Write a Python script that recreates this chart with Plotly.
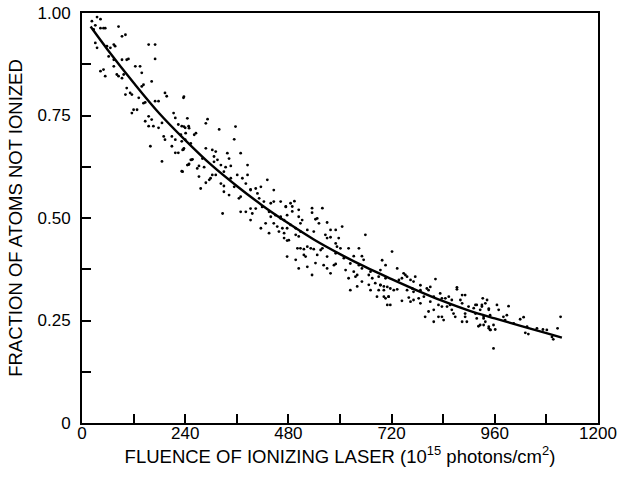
import plotly.graph_objects as go

# Fitted curve
curve_x = [20, 60, 120, 180, 240, 300, 360, 420, 480, 540, 600, 660, 720, 780, 840, 900, 960, 1020, 1080, 1116]
curve_y = [0.967, 0.91, 0.83, 0.755, 0.69, 0.63, 0.578, 0.53, 0.487, 0.447, 0.412, 0.38, 0.351, 0.323, 0.297, 0.274, 0.255, 0.237, 0.219, 0.208]

pts = [
    (23, 0.98), (35, 0.99), (43, 0.985), (31, 0.97), (27, 0.96), (43, 0.963), (50, 0.963), (54, 0.963),
    (85, 0.967), (93, 0.943), (101, 0.947), (31, 0.927), (35, 0.915), (58, 0.919), (66, 0.915), (74, 0.923),
    (77, 0.919), (62, 0.894), (74, 0.886), (93, 0.886), (104, 0.886), (108, 0.888), (155, 0.923), (170, 0.923),
    (170, 0.888), (43, 0.858), (50, 0.862), (54, 0.846), (74, 0.87), (81, 0.85), (85, 0.846), (93, 0.841),
    (97, 0.85), (124, 0.87), (135, 0.87), (139, 0.854), (162, 0.833), (143, 0.825), (139, 0.821), (104, 0.817),
    (101, 0.801), (112, 0.805), (116, 0.801), (132, 0.793), (143, 0.78), (147, 0.782), (170, 0.785), (178, 0.785),
    (193, 0.805), (197, 0.797), (236, 0.793), (120, 0.764), (128, 0.764), (116, 0.756), (147, 0.736), (155, 0.748),
    (162, 0.74), (166, 0.724), (155, 0.724), (178, 0.72), (186, 0.732), (213, 0.756), (217, 0.744), (224, 0.728),
    (232, 0.724), (240, 0.72), (248, 0.724), (190, 0.699), (193, 0.691), (209, 0.699), (217, 0.691), (232, 0.687),
    (240, 0.691), (159, 0.675), (209, 0.675), (217, 0.659), (224, 0.659), (236, 0.667), (186, 0.638), (232, 0.614),
    (248, 0.63), (255, 0.642),
    (237, 0.796), (245, 0.743), (292, 0.741), (288, 0.731), (237, 0.723), (249, 0.719), (241, 0.707), (230, 0.703),
    (265, 0.707), (261, 0.703), (319, 0.716), (357, 0.723), (354, 0.692), (253, 0.682), (237, 0.67), (234, 0.666),
    (288, 0.67), (303, 0.666), (311, 0.662), (338, 0.658), (369, 0.658), (253, 0.642), (257, 0.643), (280, 0.645),
    (307, 0.65), (315, 0.642), (307, 0.637), (342, 0.645), (245, 0.629), (249, 0.632), (272, 0.627), (284, 0.624),
    (268, 0.621), (323, 0.629), (334, 0.624), (346, 0.627), (385, 0.629), (234, 0.613), (303, 0.605), (311, 0.605),
    (299, 0.597), (296, 0.593), (288, 0.586), (272, 0.601), (330, 0.613), (361, 0.605), (373, 0.597), (385, 0.605),
    (346, 0.597), (431, 0.593), (323, 0.584), (330, 0.578), (354, 0.576), (381, 0.584), (392, 0.57), (404, 0.572),
    (416, 0.576), (392, 0.568), (446, 0.568), (276, 0.572), (330, 0.564), (342, 0.556), (369, 0.552), (365, 0.548),
    (408, 0.56), (412, 0.548), (423, 0.54), (439, 0.536), (446, 0.54), (462, 0.54), (327, 0.511), (369, 0.515),
    (381, 0.515), (392, 0.523), (396, 0.511), (404, 0.523), (419, 0.527), (435, 0.515), (439, 0.503), (450, 0.507),
    (462, 0.503), (474, 0.527), (477, 0.507), (392, 0.495), (416, 0.475), (427, 0.487), (446, 0.487), (454, 0.479),
    (458, 0.467), (435, 0.463), (470, 0.463), (477, 0.475),
    (474, 0.528), (485, 0.536), (494, 0.541), (489, 0.528), (489, 0.516), (504, 0.52), (535, 0.524), (559, 0.524),
    (535, 0.513), (462, 0.499), (470, 0.495), (504, 0.503), (512, 0.495), (543, 0.497), (547, 0.499), (551, 0.487),
    (570, 0.489), (485, 0.483), (466, 0.475), (497, 0.475), (508, 0.487), (508, 0.467), (524, 0.471), (539, 0.467),
    (578, 0.471), (590, 0.471), (605, 0.479), (470, 0.451), (477, 0.445), (481, 0.446), (497, 0.459), (504, 0.455),
    (566, 0.459), (570, 0.451), (578, 0.453), (597, 0.451), (659, 0.459), (501, 0.426), (508, 0.426), (524, 0.43),
    (516, 0.424), (532, 0.426), (539, 0.424), (555, 0.422), (559, 0.426), (590, 0.438), (593, 0.43), (601, 0.426),
    (620, 0.426), (644, 0.426), (477, 0.406), (516, 0.41), (520, 0.406), (547, 0.41), (570, 0.406), (590, 0.414),
    (609, 0.402), (632, 0.407), (651, 0.407), (497, 0.398), (562, 0.385), (586, 0.385), (590, 0.388), (624, 0.389),
    (644, 0.385), (655, 0.398), (524, 0.381), (504, 0.377), (543, 0.39), (570, 0.377), (613, 0.373), (632, 0.369),
    (651, 0.377), (671, 0.369), (694, 0.373), (578, 0.365), (535, 0.361), (640, 0.361), (620, 0.353), (636, 0.357),
    (667, 0.361), (675, 0.353), (690, 0.357), (706, 0.353), (651, 0.345), (682, 0.341), (694, 0.337), (702, 0.333),
    (624, 0.324), (640, 0.333), (667, 0.337), (671, 0.324), (690, 0.324), (686, 0.308), (702, 0.308), (713, 0.308),
    (721, 0.418), (698, 0.397), (706, 0.385), (733, 0.377), (748, 0.365), (752, 0.361), (756, 0.357), (744, 0.353),
    (737, 0.349), (775, 0.357), (764, 0.349), (771, 0.345), (822, 0.351), (694, 0.336), (710, 0.332), (702, 0.324),
    (717, 0.328), (725, 0.324), (733, 0.326), (756, 0.324), (768, 0.328), (787, 0.336), (802, 0.328), (810, 0.332),
    (806, 0.324), (771, 0.32), (787, 0.324), (872, 0.331), (872, 0.326), (706, 0.304), (713, 0.308), (717, 0.288),
    (710, 0.288), (744, 0.298), (760, 0.306), (764, 0.296), (771, 0.3), (783, 0.304), (795, 0.308), (787, 0.292),
    (818, 0.308), (833, 0.316), (837, 0.304), (845, 0.304), (853, 0.308), (860, 0.3), (884, 0.312), (891, 0.312),
    (880, 0.3), (810, 0.296), (829, 0.288), (837, 0.284), (849, 0.284), (856, 0.288), (884, 0.292), (899, 0.284),
    (918, 0.288), (930, 0.288), (942, 0.3), (946, 0.279), (818, 0.276), (806, 0.272), (829, 0.259), (837, 0.259),
    (860, 0.276), (864, 0.267), (868, 0.259), (891, 0.267), (891, 0.259), (915, 0.267), (926, 0.276), (934, 0.259),
    (798, 0.259), (818, 0.247), (841, 0.251), (884, 0.247), (895, 0.247), (926, 0.239), (946, 0.235), (950, 0.227),
    (932, 0.304), (938, 0.292), (915, 0.288), (911, 0.28), (930, 0.284), (965, 0.288), (992, 0.285), (946, 0.276),
    (969, 0.276), (949, 0.263), (988, 0.263), (918, 0.255), (934, 0.255), (980, 0.259), (1019, 0.253), (1027, 0.258),
    (938, 0.247), (922, 0.236), (934, 0.239), (946, 0.231), (949, 0.227), (957, 0.239), (961, 0.228), (984, 0.251),
    (1004, 0.243), (1035, 0.235), (1031, 0.22), (1038, 0.217), (1058, 0.231), (1072, 0.228), (1081, 0.227), (1093, 0.21),
    (1096, 0.204), (1106, 0.231), (1113, 0.259), (957, 0.182),
]
data_x = [p[0] for p in pts]
data_y = [p[1] for p in pts]

x_tickvals = [0, 240, 480, 720, 960, 1200]
x_ticktext = ["0", "240", "480", "720", "960", "1200"]
y_tickvals = [0, 0.25, 0.5, 0.75, 1.0]
y_ticktext = ["0", "0.25", "0.50", "0.75", "1.00"]

FONT = "Liberation Sans, Arial, Helvetica, sans-serif"

fig = go.Figure()
fig.add_trace(go.Scatter(x=data_x, y=data_y, mode="markers",
                         marker=dict(color="black", size=2.8, line=dict(width=0)),
                         showlegend=False, hoverinfo="skip"))
fig.add_trace(go.Scatter(x=curve_x, y=curve_y, mode="lines", line=dict(color="black", width=2.4, shape="spline"),
                         showlegend=False, hoverinfo="skip"))

fig.update_layout(
    template="none",
    width=618, height=480,
    margin=dict(l=82, r=20, t=13, b=57, autoexpand=False),
    paper_bgcolor="white", plot_bgcolor="white",
    font=dict(family=FONT, size=17, color="black"),
    xaxis=dict(range=[0, 1200], tickvals=x_tickvals, ticktext=x_ticktext, automargin=False,
               ticks="inside", ticklen=9, tickwidth=1.5, tickcolor="black",
               minor=dict(ticks="inside", ticklen=9, tickwidth=1.5, tickcolor="black",
                          tick0=0, dtick=120, showgrid=False),
               showline=True, linecolor="black", linewidth=1.8, mirror=True,
               showgrid=False, zeroline=False, ticklabelstandoff=-6,
               tickfont=dict(size=17),
               title=dict(text="FLUENCE OF IONIZING LASER (10<sup>15</sup> photons/cm<sup>2</sup>)",
                          font=dict(size=18.5), standoff=3)),
    yaxis=dict(range=[0, 1], tickvals=y_tickvals, ticktext=y_ticktext, automargin=False,
               ticks="inside", ticklen=9, tickwidth=1.5, tickcolor="black",
               minor=dict(ticks="inside", ticklen=9, tickwidth=1.5, tickcolor="black",
                          tick0=0, dtick=0.125, showgrid=False),
               showline=True, linecolor="black", linewidth=1.8, mirror=True,
               showgrid=False, zeroline=False, ticklabelstandoff=6,
               tickfont=dict(size=17),
               title=dict(text="FRACTION OF ATOMS NOT IONIZED", font=dict(size=18.5), standoff=10)),
)

fig.write_html("out.html", config={"displayModeBar": False},
               post_script="document.body.style.margin='0';document.body.style.overflow='hidden';")
